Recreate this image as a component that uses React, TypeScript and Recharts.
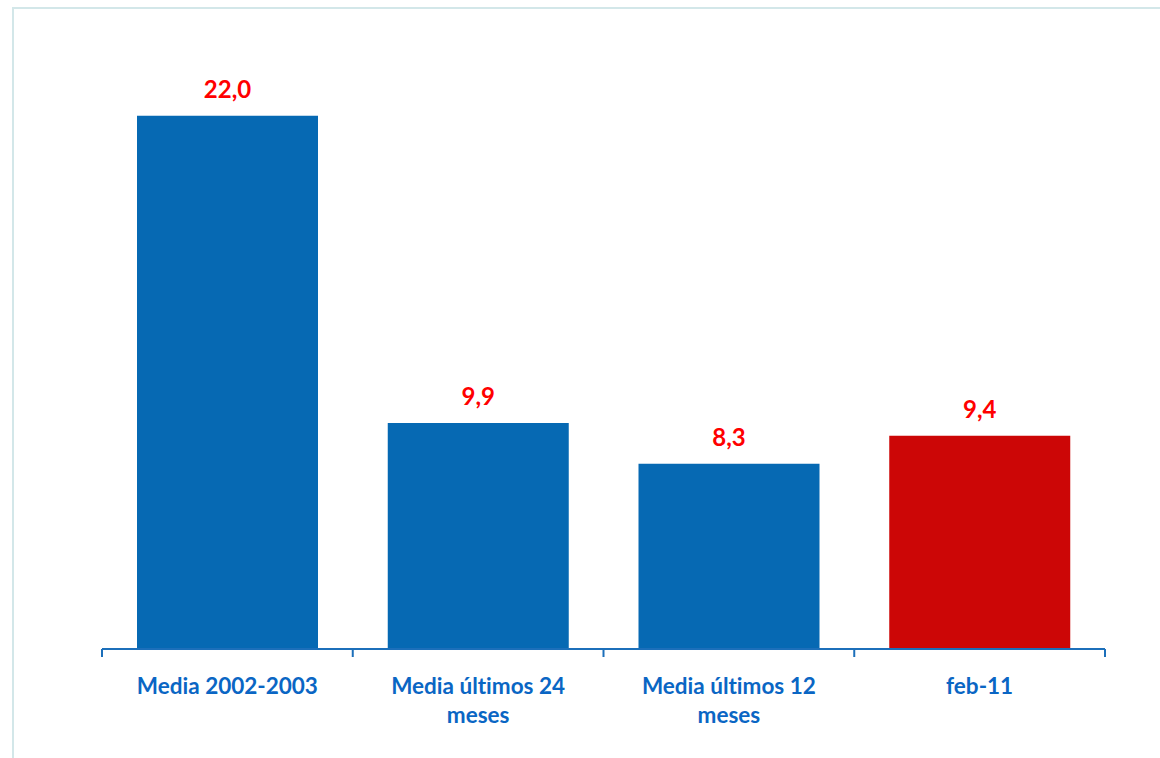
import { BarChart, Bar, XAxis, YAxis, Cell, LabelList } from "recharts"

const categories = ["Media 2002-2003", "Media últimos 24\nmeses", "Media últimos 12\nmeses", "feb-11"]
const values = [22.0, 9.9, 8.3, 9.4]
const barColors = ["#0669b3", "#0669b3", "#0669b3", "#cc0606"]

const data = categories.map((name, i) => ({ name, value: values[i] }))

const FONT = "Lato, 'Open Sans', sans-serif"
const AXIS_COLOR = "#1c6fba"
const CHART_W = 1160
const MARGIN = { top: 65, right: 55, left: 102, bottom: 9 }
const BAND = (CHART_W - MARGIN.left - MARGIN.right) / categories.length

function CategoryTick(props: any) {
  const { x, y, payload, index } = props
  const lines = String(payload.value).split("\n")
  const top = y - 8
  return (
    <g>
      <line x1={x - BAND / 2} x2={x - BAND / 2} y1={top} y2={top + 8} stroke={AXIS_COLOR} strokeWidth={2} />
      {index === categories.length - 1 && (
        <line x1={x + BAND / 2} x2={x + BAND / 2} y1={top} y2={top + 8} stroke={AXIS_COLOR} strokeWidth={2} />
      )}
      <text
        x={x}
        y={y}
        textAnchor="middle"
        fill="#0a66c4"
        fontFamily={FONT}
        fontWeight={700}
        fontSize={22.5}
        style={{ fontVariantLigatures: "none" }}
      >
        {lines.map((line, i) => (
          <tspan key={i} x={x} y={y + 37 + i * 29}>
            {line}
          </tspan>
        ))}
      </text>
    </g>
  )
}

export default function App() {
  return (
    <div style={{ position: "absolute", left: 0, top: 0, width: 1160, height: 758, background: "#fff", overflow: "hidden" }}>
      <div
        style={{
          position: "absolute",
          left: 12,
          top: 7,
          width: 1200,
          height: 800,
          border: "2px solid #d3e7e9",
        }}
      />
      <BarChart
        width={CHART_W}
        height={758}
        data={data}
        margin={MARGIN}
        style={{ position: "absolute", left: 0, top: 0 }}
      >
        <YAxis hide domain={[1, 24]} />
        <XAxis
          dataKey="name"
          height={100}
          interval={0}
          axisLine={{ stroke: AXIS_COLOR, strokeWidth: 2 }}
          tickLine={false}
          tickSize={0}
          tickMargin={8}
          tick={<CategoryTick />}
        />
        <Bar dataKey="value" barSize={181} isAnimationActive={false}>
          {data.map((d, i) => (
            <Cell key={d.name} fill={barColors[i]} />
          ))}
          <LabelList
            dataKey="value"
            position="top"
            offset={18}
            fill="#ff0000"
            fontFamily={FONT}
            fontWeight={700}
            fontSize={24}
            formatter={(v: any) => Number(v).toFixed(1).replace(".", ",")}
          />
        </Bar>
      </BarChart>
    </div>
  )
}
